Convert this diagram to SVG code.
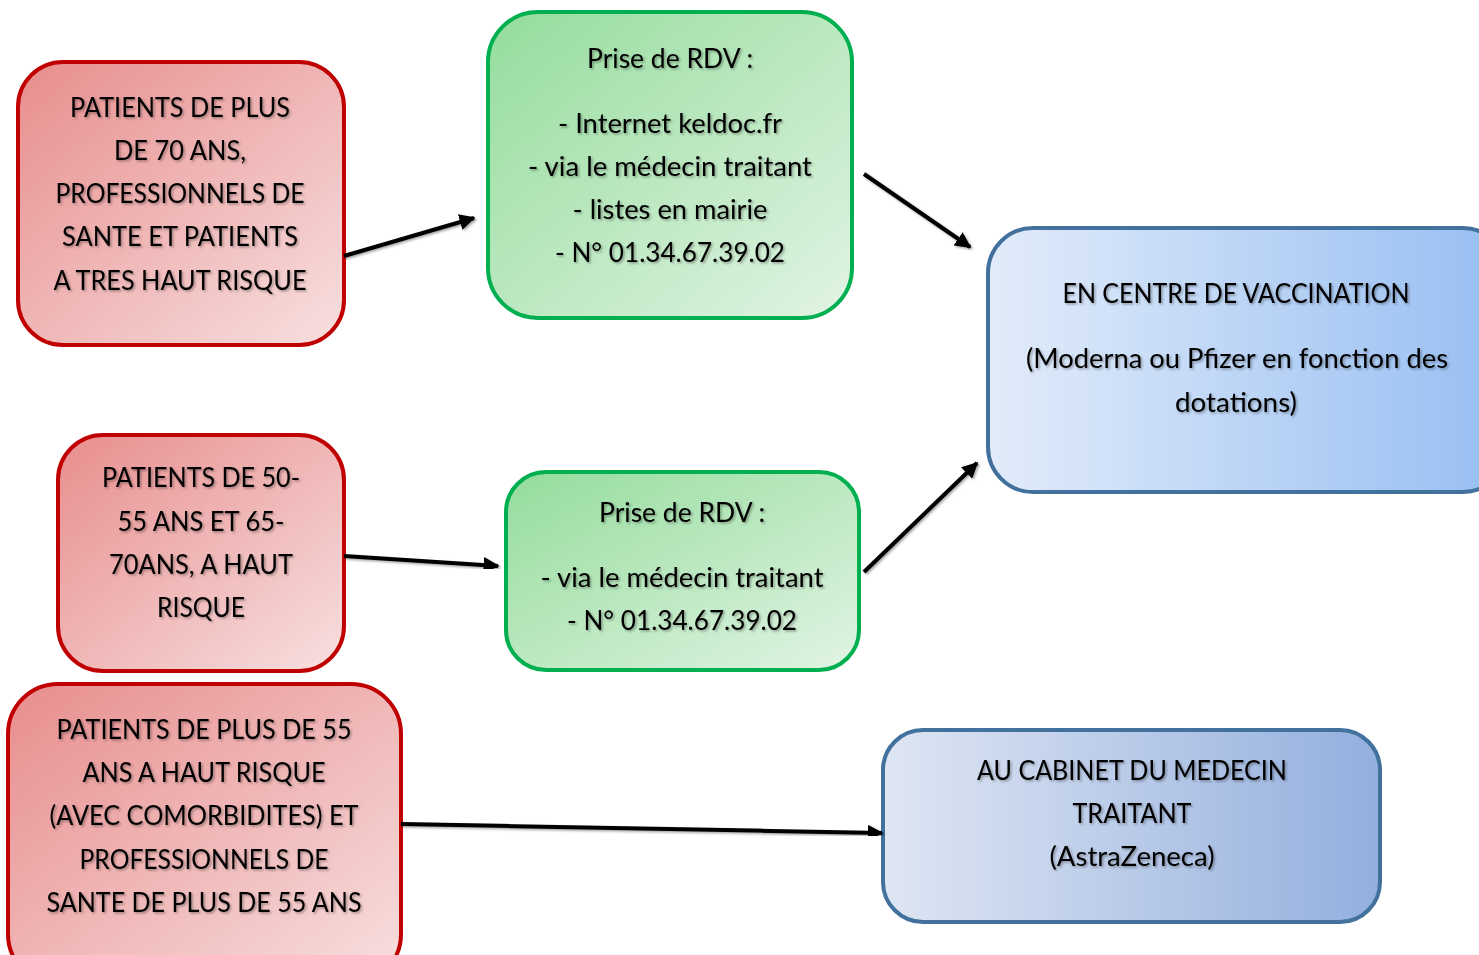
<svg xmlns="http://www.w3.org/2000/svg" width="1479" height="955" viewBox="0 0 1479 955">
<defs>
<linearGradient id="gRed" x1="0" y1="0" x2="1" y2="1"><stop offset="0" stop-color="#e88d8d"/><stop offset="1" stop-color="#f8e0e0"/></linearGradient>
<linearGradient id="gGreen" x1="0" y1="0" x2="1" y2="1"><stop offset="0" stop-color="#94dc9c"/><stop offset="1" stop-color="#e2f4e4"/></linearGradient>
<linearGradient id="gBlue1" x1="0" y1="0" x2="1" y2="0"><stop offset="0" stop-color="#e2ecfa"/><stop offset="1" stop-color="#96bef2"/></linearGradient>
<linearGradient id="gBlue2" x1="0" y1="0" x2="1" y2="0"><stop offset="0" stop-color="#dfe6f3"/><stop offset="1" stop-color="#93afde"/></linearGradient>
<filter id="ts" x="-10%" y="-30%" width="120%" height="160%"><feDropShadow dx="1.5" dy="1.5" stdDeviation="1" flood-color="#000" flood-opacity="0.35"/></filter>
<marker id="ah" viewBox="0 0 10 10" refX="9" refY="5" markerWidth="4" markerHeight="4" orient="auto" markerUnits="strokeWidth"><path d="M0,0 L10,5 L0,10 z" fill="#000"/></marker>
</defs>
<style>
.red{fill:url(#gRed);stroke:#c00000;stroke-width:4}
.green{fill:url(#gGreen);stroke:#00b050;stroke-width:4}
.blue1{fill:url(#gBlue1);stroke:#41719c;stroke-width:4}
.blue2{fill:url(#gBlue2);stroke:#41719c;stroke-width:4}
text{font-family:Lato,"Liberation Sans",sans-serif;font-size:26px;fill:#000;text-anchor:middle;filter:url(#ts)}
.lc{font-size:27px}
.conn line{stroke:#000;stroke-width:4;marker-end:url(#ah);filter:url(#ts)}
</style>
<g id="red1">
<rect class="red" x="18" y="62" width="326" height="283" rx="45"/>
<text x="180" y="117" textLength="220" lengthAdjust="spacingAndGlyphs">PATIENTS DE PLUS</text>
<text x="180" y="160" textLength="132" lengthAdjust="spacingAndGlyphs">DE 70 ANS,</text>
<text x="180" y="203" textLength="249" lengthAdjust="spacingAndGlyphs">PROFESSIONNELS DE</text>
<text x="180" y="246" textLength="236" lengthAdjust="spacingAndGlyphs">SANTE ET PATIENTS</text>
<text x="180" y="290" textLength="253" lengthAdjust="spacingAndGlyphs">A TRES HAUT RISQUE</text>
</g>
<g id="green1">
<rect class="green" x="488" y="12" width="364" height="306" rx="50"/>
<text class="lc" x="670" y="68" textLength="166" lengthAdjust="spacingAndGlyphs">Prise de RDV :</text>
<text class="lc" x="670" y="133" textLength="224" lengthAdjust="spacingAndGlyphs">- Internet keldoc.fr</text>
<text class="lc" x="670" y="176" textLength="284" lengthAdjust="spacingAndGlyphs">- via le médecin traitant</text>
<text class="lc" x="670" y="219" textLength="195" lengthAdjust="spacingAndGlyphs">- listes en mairie</text>
<text class="lc" x="670" y="262" textLength="230" lengthAdjust="spacingAndGlyphs">- N° 01.34.67.39.02</text>
</g>
<g id="blue1">
<rect class="blue1" x="988" y="228" width="520" height="264" rx="45"/>
<text x="1236" y="303" textLength="347" lengthAdjust="spacingAndGlyphs">EN CENTRE DE VACCINATION</text>
<text class="lc" x="1237" y="368" textLength="422" lengthAdjust="spacingAndGlyphs">(Moderna ou Pfizer en fonction des</text>
<text class="lc" x="1236" y="412" textLength="122" lengthAdjust="spacingAndGlyphs">dotations)</text>
</g>
<g id="red2">
<rect class="red" x="58" y="435" width="286" height="236" rx="45"/>
<text x="201" y="487" textLength="198" lengthAdjust="spacingAndGlyphs">PATIENTS DE 50-</text>
<text x="201" y="531" textLength="167" lengthAdjust="spacingAndGlyphs">55 ANS ET 65-</text>
<text x="201" y="574" textLength="184" lengthAdjust="spacingAndGlyphs">70ANS, A HAUT</text>
<text x="201" y="617" textLength="88" lengthAdjust="spacingAndGlyphs">RISQUE</text>
</g>
<g id="green2">
<rect class="green" x="506" y="472" width="353" height="198" rx="40"/>
<text class="lc" x="682" y="522" textLength="166" lengthAdjust="spacingAndGlyphs">Prise de RDV :</text>
<text class="lc" x="682" y="587" textLength="283" lengthAdjust="spacingAndGlyphs">- via le médecin traitant</text>
<text class="lc" x="682" y="630" textLength="230" lengthAdjust="spacingAndGlyphs">- N° 01.34.67.39.02</text>
</g>
<g id="red3">
<rect class="red" x="8" y="684" width="393" height="300" rx="50"/>
<text x="204" y="739" textLength="295" lengthAdjust="spacingAndGlyphs">PATIENTS DE PLUS DE 55</text>
<text x="204" y="782" textLength="243" lengthAdjust="spacingAndGlyphs">ANS A HAUT RISQUE</text>
<text x="204" y="825" textLength="309" lengthAdjust="spacingAndGlyphs">(AVEC COMORBIDITES) ET</text>
<text x="204" y="869" textLength="249" lengthAdjust="spacingAndGlyphs">PROFESSIONNELS DE</text>
<text x="204" y="912" textLength="315" lengthAdjust="spacingAndGlyphs">SANTE DE PLUS DE 55 ANS</text>
</g>
<g id="blue2">
<rect class="blue2" x="883" y="730" width="497" height="192" rx="40"/>
<text x="1132" y="780" textLength="310" lengthAdjust="spacingAndGlyphs">AU CABINET DU MEDECIN</text>
<text x="1132" y="823" textLength="119" lengthAdjust="spacingAndGlyphs">TRAITANT</text>
<text class="lc" x="1132" y="866" textLength="165" lengthAdjust="spacingAndGlyphs">(AstraZeneca)</text>
</g>
<g id="connectors" class="conn">
<line x1="344" y1="256" x2="474" y2="218"/>
<line x1="864" y1="174" x2="970" y2="247"/>
<line x1="344" y1="556" x2="498" y2="566"/>
<line x1="864" y1="572" x2="977" y2="463"/>
<line x1="401" y1="824" x2="882" y2="833"/>
</g>
</svg>
